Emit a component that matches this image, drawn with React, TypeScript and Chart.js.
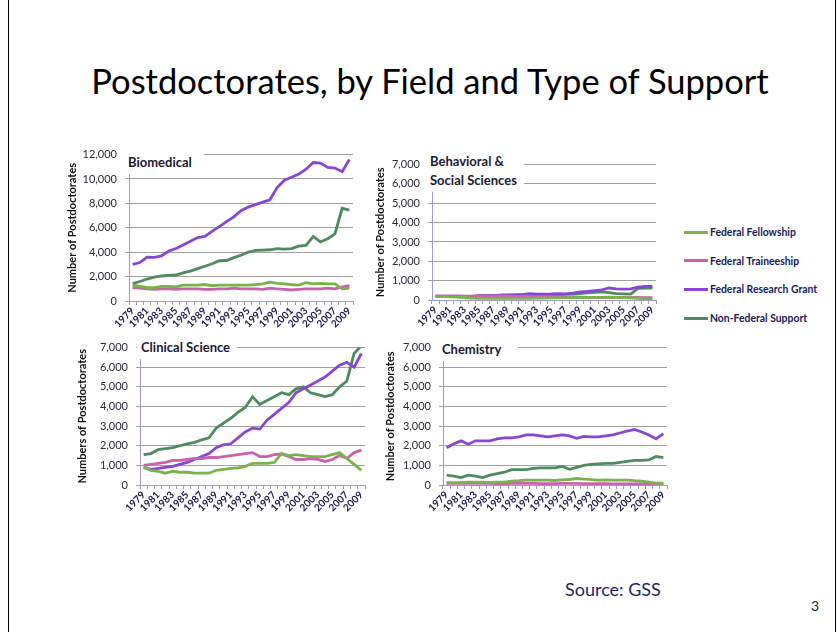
import React, { useEffect, useRef } from 'react';
import { Chart, registerables } from 'chart.js';

Chart.register(...registerables);

const years = ['1979','1980','1981','1982','1983','1984','1985','1986','1987','1988','1989','1990','1991','1992','1993','1994','1995','1996','1997','1998','1999','2000','2001','2002','2003','2004','2005','2006','2007','2008','2009'];

const seriesNames = ['Federal Fellowship', 'Federal Traineeship', 'Federal Research Grant', 'Non-Federal Support'];
const seriesColors = ['#79b449', '#cc5fae', '#8a44d8', '#4c8c5e'];

// Biomedical
const bioFellowship = [1300,1200,1100,1100,1200,1200,1150,1300,1300,1300,1350,1250,1300,1300,1300,1300,1300,1350,1400,1550,1450,1400,1350,1300,1500,1400,1450,1400,1400,1000,1050];
const bioTraineeship = [1100,1050,1000,950,1000,1000,950,1000,1000,1000,950,950,1000,1000,1050,1000,1000,1000,950,1050,1000,950,900,950,1000,1000,1000,1050,1000,1150,1250];
const bioResearch = [3000,3150,3600,3580,3700,4100,4300,4600,4900,5200,5300,5700,6100,6500,6900,7400,7700,7900,8100,8300,9300,9900,10150,10400,10800,11350,11300,10950,10900,10600,11600];
const bioNonFed = [1420,1600,1800,1950,2050,2100,2130,2300,2450,2650,2850,3050,3300,3320,3550,3750,4000,4150,4170,4200,4300,4250,4300,4500,4550,5300,4850,5100,5500,7600,7450];

// Behavioral & Social Sciences
const behFellowship = [180,170,160,150,130,100,80,80,80,90,90,80,80,90,100,100,110,120,120,120,130,130,140,140,150,130,120,110,90,70,60];
const behTraineeship = [200,200,210,200,190,200,200,210,200,210,200,190,180,180,170,170,160,160,150,150,150,140,140,130,140,140,130,130,130,120,120];
const behResearch = [200,200,180,200,200,180,200,220,230,250,250,260,280,330,300,300,310,330,320,350,420,450,480,520,620,580,560,580,660,700,700];
const behNonFed = [200,190,170,180,160,180,220,230,230,250,270,270,280,270,260,250,260,280,290,300,330,370,400,420,380,330,320,300,600,620,620];

// Clinical Science
const clinFellowship = [900,750,700,600,700,650,650,600,600,600,750,800,850,870,950,1100,1100,1100,1150,1600,1500,1550,1500,1450,1450,1450,1550,1650,1350,1050,750];
const clinTraineeship = [1000,1050,1100,1150,1250,1250,1300,1350,1350,1400,1400,1450,1500,1550,1600,1650,1450,1450,1550,1580,1450,1300,1300,1350,1300,1200,1300,1500,1350,1650,1780];
const clinResearch = [900,800,850,900,950,1050,1150,1300,1450,1600,1900,2050,2100,2400,2700,2900,2850,3300,3600,3900,4200,4700,4900,5100,5300,5500,5800,6100,6250,6000,6700];
const clinNonFed = [1550,1600,1800,1850,1900,2000,2100,2170,2300,2400,2900,3150,3400,3700,3950,4500,4100,4300,4500,4700,4600,4900,5000,4700,4600,4500,4600,5000,5300,6700,7100];

// Chemistry
const chemFellowship = [120,120,130,150,150,150,130,150,150,200,220,250,250,250,250,230,260,280,330,300,270,250,260,250,250,250,220,200,150,100,90];
const chemTraineeship = [80,80,90,90,80,80,80,70,70,80,80,80,80,70,70,70,80,80,80,70,70,70,70,60,60,60,60,60,60,60,60];
const chemResearch = [1900,2100,2250,2080,2250,2250,2250,2350,2400,2400,2450,2550,2550,2500,2450,2500,2550,2500,2380,2480,2450,2450,2500,2550,2650,2750,2830,2700,2550,2350,2620];
const chemNonFed = [500,450,380,500,450,380,500,580,650,780,780,780,850,870,870,870,950,800,900,1000,1050,1080,1100,1100,1150,1200,1250,1250,1280,1450,1400];

const FONT = "Lato, 'Open Sans', 'DejaVu Sans', sans-serif";
const AXIS = '#9c9cd0';

type Box = { left: number; top: number; w: number; h: number };
type Plot = { left: number; top: number; right: number; bottom: number };

function Panel(props: { box: Box; plot: Plot; yMax: number; step: number; yTitle: string; data: number[][] }) {
  const ref = useRef<HTMLCanvasElement | null>(null);
  useEffect(() => {
    const { box, plot, yMax, step, yTitle, data } = props;
    const chart = new Chart(ref.current as HTMLCanvasElement, {
      type: 'line',
      data: {
        labels: years,
        datasets: data.map((d, i) => ({
          label: seriesNames[i],
          data: d,
          borderColor: seriesColors[i],
          backgroundColor: seriesColors[i],
          borderWidth: 2.8,
          pointRadius: 0,
          tension: 0,
          fill: false,
        })),
      },
      options: {
        responsive: false,
        animation: false,
        maintainAspectRatio: false,
        layout: { padding: { top: plot.top - box.top, right: box.left + box.w - plot.right, left: 0, bottom: 0 } },
        plugins: { legend: { display: false }, tooltip: { enabled: false } },
        scales: {
          x: {
            offset: true,
            grid: { offset: true, drawOnChartArea: false, color: AXIS, tickLength: 4 },
            border: { color: AXIS },
            ticks: {
              autoSkip: false,
              maxRotation: 45,
              minRotation: 45,
              padding: 0,
              color: '#1c1c50',
              font: { family: FONT, size: 10, weight: 'bold' },
              callback: (_v: any, i: number) => (i % 2 === 0 ? years[i] : ''),
            },
            afterFit: (s: any) => { s.height = box.top + box.h - plot.bottom; },
          },
          y: {
            min: 0,
            max: yMax,
            ticks: {
              stepSize: step,
              color: '#2a2a3a',
              padding: 8,
              font: { family: FONT, size: 11 },
              callback: (v: any) => Number(v).toLocaleString('en-US'),
            },
            grid: { color: '#a0a0a0', tickLength: 4 },
            border: { color: AXIS },
            title: { display: true, text: yTitle, color: '#111', padding: { top: 4, bottom: 0 }, font: { family: FONT, size: 11, weight: 'bold' } },
            afterFit: (s: any) => { s.width = plot.left - box.left; },
          },
        },
      } as any,
    });
    return () => chart.destroy();
  }, []);
  const { box } = props;
  return (
    <canvas
      ref={ref}
      width={box.w}
      height={box.h}
      style={{ position: 'absolute', left: box.left, top: box.top, width: box.w, height: box.h }}
    />
  );
}

const subStyle: React.CSSProperties = {
  position: 'absolute',
  background: '#fff',
  fontFamily: FONT,
  fontWeight: 'bold',
  fontSize: 13,
  color: '#1a1a30',
  lineHeight: '19px',
};

export default function App() {
  return (
    <div style={{ position: 'absolute', left: 0, top: 0, width: 838, height: 632, background: '#fff', overflow: 'hidden', fontFamily: FONT }}>
      <div style={{ position: 'absolute', left: 8, top: 0, width: 1, height: 632, background: '#000' }} />
      <div style={{ position: 'absolute', left: 835, top: 0, width: 1, height: 632, background: '#000' }} />

      <div style={{ position: 'absolute', left: 0, width: 838, top: 60, textAlign: 'center', paddingLeft: 22, boxSizing: 'border-box', fontSize: 34.5, color: '#000', whiteSpace: 'nowrap' }}>
        Postdoctorates, by Field and Type of Support
      </div>

      <Panel box={{ left: 62, top: 140, w: 300, h: 200 }} plot={{ left: 129, top: 152, right: 353, bottom: 301 }} yMax={12000} step={2000} yTitle="Number of Postdoctorates" data={[bioFellowship, bioTraineeship, bioResearch, bioNonFed]} />
      <Panel box={{ left: 370, top: 150, w: 300, h: 190 }} plot={{ left: 432, top: 161, right: 656, bottom: 300 }} yMax={7000} step={1000} yTitle="Number of Postdoctorates" data={[behFellowship, behTraineeship, behResearch, behNonFed]} />
      <Panel box={{ left: 72, top: 333, w: 300, h: 192 }} plot={{ left: 140, top: 345, right: 365, bottom: 485 }} yMax={7000} step={1000} yTitle="Numbers of Postdoctorates" data={[clinFellowship, clinTraineeship, clinResearch, clinNonFed]} />
      <Panel box={{ left: 380, top: 333, w: 300, h: 192 }} plot={{ left: 443, top: 345, right: 667, bottom: 485 }} yMax={7000} step={1000} yTitle="Number of Postdoctorates" data={[chemFellowship, chemTraineeship, chemResearch, chemNonFed]} />

      <div style={{ ...subStyle, left: 124, top: 146, width: 80, height: 28, paddingLeft: 4, paddingTop: 7, boxSizing: 'border-box' }}>Biomedical</div>
      <div style={{ ...subStyle, left: 426, top: 150, width: 98, height: 42, paddingLeft: 4, paddingTop: 2, boxSizing: 'border-box' }}>Behavioral &amp;<br />Social Sciences</div>
      <div style={{ ...subStyle, left: 137, top: 337, width: 100, height: 22, paddingLeft: 4, paddingTop: 1, boxSizing: 'border-box' }}>Clinical Science</div>
      <div style={{ ...subStyle, left: 438, top: 339, width: 80, height: 22, paddingLeft: 4, paddingTop: 1, boxSizing: 'border-box' }}>Chemistry</div>

      {seriesNames.map((name, i) => (
        <div key={name} style={{ position: 'absolute', left: 684, top: 224 + i * 28.7, height: 16, display: 'flex', alignItems: 'center', whiteSpace: 'nowrap' }}>
          <span style={{ display: 'inline-block', width: 24, height: 3, background: seriesColors[i], marginRight: 2 }} />
          <span style={{ fontSize: 10.4, fontWeight: 'bold', color: '#1a1a5a', fontFamily: FONT }}>{name}</span>
        </div>
      ))}

      <div style={{ position: 'absolute', left: 565, top: 578, fontSize: 18, color: '#1f1f6e', whiteSpace: 'nowrap' }}>Source: GSS</div>
      <div style={{ position: 'absolute', left: 811, top: 597, fontSize: 14, color: '#1a1a40' }}>3</div>
    </div>
  );
}
